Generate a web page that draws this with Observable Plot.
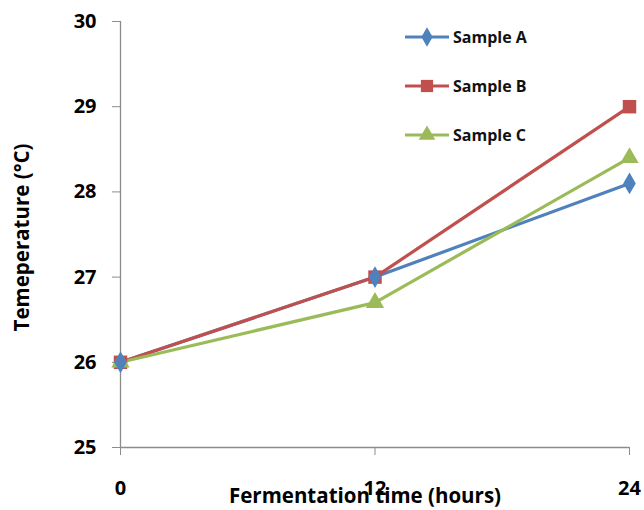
<!DOCTYPE html>
<html>
<head>
<meta charset="utf-8">
<script src="https://cdn.jsdelivr.net/npm/d3@7"></script>
<script src="https://cdn.jsdelivr.net/npm/@observablehq/plot@0.6"></script>
<style>
  body { margin: 0; background: #fff; }
  #wrap { position: relative; width: 644px; height: 510px; overflow: hidden; font-family: "Open Sans", sans-serif; }
  #legend { position: absolute; left: 404px; top: 26px; }
  .row { display: flex; align-items: center; height: 22px; margin-bottom: 27px; font-weight: 700; font-size: 16px; color: #111; }
  .row svg { margin-right: 3px; }
</style>
</head>
<body>
<div id="wrap"></div>
<script>
const hours = [0, 12, 24];
const series = ["Sample A", "Sample B", "Sample C"];
const sampleA = [26, 27, 28.1];
const sampleB = [26, 27, 29];
const sampleC = [26, 26.7, 28.4];
const yTicks = [25, 26, 27, 28, 29, 30];
const colors = ["#4F81BD", "#C0504D", "#9BBB59"];
const symbols = ["diamond", "square", "triangle"];

const values = [sampleA, sampleB, sampleC];
const data = [];
series.forEach((s, i) => hours.forEach((h, j) => data.push({series: s, hours: h, temp: values[i][j]})));

const markerR = {"Sample A": 6.6, "Sample B": 7.6, "Sample C": 6.8};
const axisColor = "#8c8c8c";
const chart = Plot.plot({
  width: 644,
  height: 510,
  marginLeft: 120,
  marginRight: 15,
  marginTop: 21,
  marginBottom: 63,
  style: {fontFamily: "'Open Sans', sans-serif", background: "#fff", overflow: "visible"},
  x: {domain: [0, 24], ticks: hours},
  y: {domain: [25, 30], ticks: yTicks},
  r: {type: "identity"},
  color: {domain: series, range: colors},
  symbol: {domain: series, range: symbols},
  marks: [
    Plot.ruleX([0], {stroke: axisColor, strokeWidth: 1.3}),
    Plot.ruleY([25], {stroke: axisColor, strokeWidth: 1.3}),
    Plot.axisY({ticks: yTicks, tickSize: 8, tickPadding: 16, stroke: axisColor, strokeOpacity: 1, label: null,
      fontSize: 20, fontWeight: 700, fill: "#000", tickFormat: d => d}),
    Plot.axisX({ticks: hours, tickSize: 8, tickPadding: 25, stroke: axisColor, strokeOpacity: 1, label: null,
      fontSize: 20, fontWeight: 700, fill: "#000", tickFormat: d => d}),
    Plot.line(data, {x: "hours", y: "temp", z: "series", stroke: "series", strokeWidth: 3.2}),
    Plot.dot(data, {x: "hours", y: "temp", fill: "series", symbol: "series", r: d => markerR[d.series], stroke: "none"}),
    Plot.text(["Fermentation time (hours)"], {frameAnchor: "bottom", dx: -10, dy: 55, fontSize: 20.5, fontWeight: 700, fill: "#000"}),
    Plot.text(["Temeperature (°C)"], {frameAnchor: "left", textAnchor: "middle", rotate: -90, dx: -98, dy: 3, fontSize: 20.5, fontWeight: 700, fill: "#000"})
  ]
});
const wrap = document.getElementById("wrap");
wrap.appendChild(chart);

const legend = document.createElement("div");
legend.id = "legend";
const types = [d3.symbolDiamond, d3.symbolSquare, d3.symbolTriangle];
series.forEach((s, i) => {
  const row = document.createElement("div");
  row.className = "row";
  const p = d3.symbol(types[i], [110, 150, 120][i])();
  row.innerHTML = `<svg width="46" height="22"><line x1="1" x2="45" y1="11" y2="11" stroke="${colors[i]}" stroke-width="3.2"/><path d="${p}" transform="translate(23,11)" fill="${colors[i]}"/></svg><span>${s}</span>`;
  legend.appendChild(row);
});
wrap.appendChild(legend);
</script>
</body>
</html>
